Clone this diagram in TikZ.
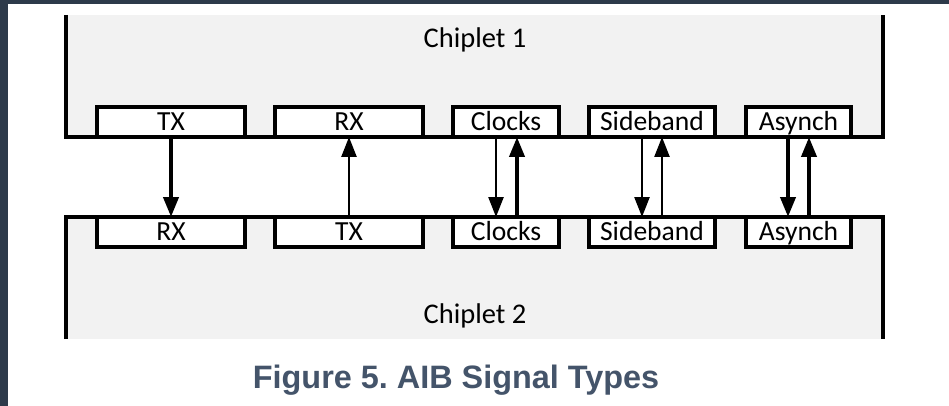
\documentclass[tikz,border=0pt]{standalone}
\usepackage{fontspec}
\setmainfont{Carlito}
\newfontfamily\capfont{Liberation Sans}
\usetikzlibrary{arrows.meta}
\definecolor{frame}{HTML}{2D3A4A}
\definecolor{chipgray}{HTML}{F2F2F2}
\definecolor{capcol}{HTML}{44546A}
\tikzset{
  sigbox/.style={draw=black, fill=white, line width=3.2pt, inner sep=0pt, outer sep=0pt,
    minimum height=30pt, text height=17pt, text depth=0pt, font=\fontsize{27.6}{27.6}\selectfont},
  chipline/.style={draw=black, line width=3.2pt},
  thickarr/.style={line width=4pt, -{Triangle[length=20pt,width=15pt]}},
  thinarr/.style={line width=2.5pt, -{Triangle[length=20pt,width=15pt]}},
  chiplabel/.style={anchor=base, inner sep=0pt, font=\fontsize{28.5}{28.5}\selectfont},
}
\begin{document}
\frenchspacing
\begin{tikzpicture}[x=1pt,y=-1pt]
\useasboundingbox (0,0) rectangle (949,406);
\fill[white] (0,0) rectangle (949,406);
\fill[frame] (0,0) rectangle (949,4);
\fill[frame] (0,0) rectangle (8,406);
% chiplet areas
\fill[chipgray] (66,15) rectangle (883,137);
\fill[chipgray] (66,217) rectangle (883,339);
\draw[chipline] (66,15) -- (66,137) -- (883,137) -- (883,15);
\draw[chipline] (66,339) -- (66,217) -- (883,217) -- (883,339);
\node[chiplabel] (c1) at (475,48) {Chiplet 1};
\node[chiplabel] (c2) at (475,323) {Chiplet 2};
% top boxes
\node[sigbox, minimum width=148pt] (t1) at (171,122) {TX};
\node[sigbox, minimum width=148pt] (t2) at (349,122) {RX};
\node[sigbox, minimum width=106pt] (t3) at (506,122) {Clocks};
\node[sigbox, minimum width=126pt] (t4) at (652,122) {Sideband};
\node[sigbox, minimum width=105pt] (t5) at (798.5,122) {Asynch};
% bottom boxes
\node[sigbox, minimum width=148pt] (b1) at (171,232) {RX};
\node[sigbox, minimum width=148pt] (b2) at (349,232) {TX};
\node[sigbox, minimum width=106pt] (b3) at (506,232) {Clocks};
\node[sigbox, minimum width=126pt] (b4) at (652,232) {Sideband};
\node[sigbox, minimum width=105pt] (b5) at (798.5,232) {Asynch};
% arrows
\draw[thickarr] (t1.south) -- (b1.north);
\draw[thinarr] (b2.north) -- (t2.south);
\draw[thinarr] ([xshift=-10pt]t3.south) -- ([xshift=-10pt]b3.north);
\draw[thickarr] ([xshift=11pt]b3.north) -- ([xshift=11pt]t3.south);
\draw[thinarr] ([xshift=-10pt]t4.south) -- ([xshift=-10pt]b4.north);
\draw[thinarr] ([xshift=10pt]b4.north) -- ([xshift=10pt]t4.south);
\draw[thickarr] ([xshift=-10.5pt]t5.south) -- ([xshift=-10.5pt]b5.north);
\draw[thickarr] ([xshift=10.5pt]b5.north) -- ([xshift=10.5pt]t5.south);
% caption
\node[anchor=base, inner sep=0pt, text=capcol, font=\capfont\bfseries\fontsize{32.4}{32.4}\selectfont] (cap) at (456,388) {Figure 5. AIB Signal Types};
\end{tikzpicture}
\end{document}
